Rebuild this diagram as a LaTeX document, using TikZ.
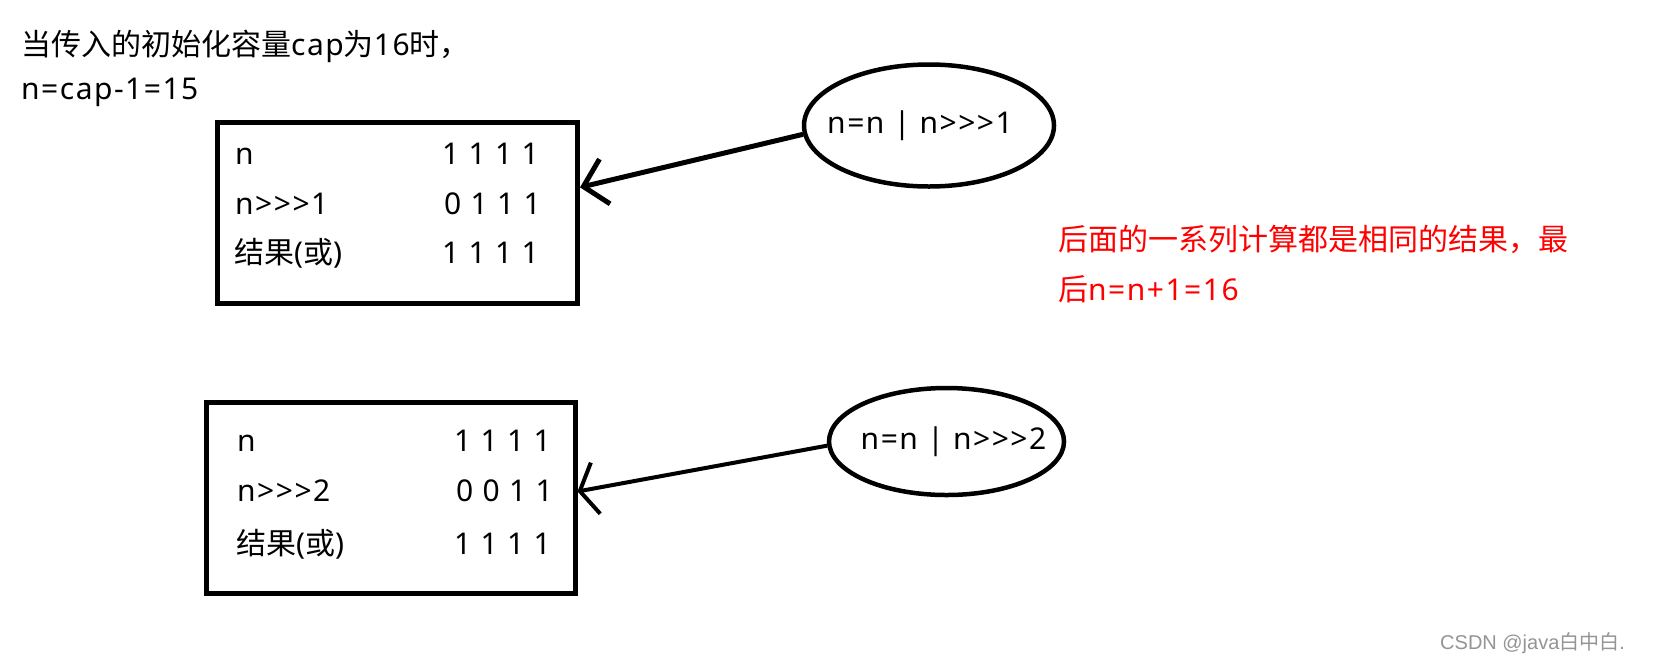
\documentclass[tikz,border=0pt]{standalone}
\usepackage{fontspec}
\setmainfont{Noto Sans}[LetterSpace=5]
\newfontfamily\cjk{Noto Sans CJK SC}
\newfontfamily\wmfont{Liberation Sans}
\usetikzlibrary{shapes.geometric,arrows.meta}
\newcommand{\gtr}{>\kern1.5pt}
\begin{document}
\begin{tikzpicture}[x=1pt,y=-1pt,
  txt/.style={inner sep=0pt,anchor=base west,font=\fontsize{30pt}{36pt}\selectfont},
  redtxt/.style={txt,text=red},
  boxnode/.style={draw,line width=5pt,inner sep=0pt,minimum width=#1},
  oval/.style={draw,ellipse,line width=4.5pt,inner sep=0pt,font=\fontsize{30pt}{36pt}\selectfont},
  conn/.style={line width=5pt}
]
\useasboundingbox (0,0) rectangle (1653,662);

% heading
\node[txt] (h1) at (21,55) {{\cjk 当传入的初始化容量}cap{\cjk 为}16{\cjk 时，}};
\node[txt] (h2) at (21,99) {n=cap-1=15};

% box 1
\node[boxnode, minimum width=360pt, minimum height=181pt] (b1) at (397.5,213) {};
\node[txt] (b1n) at (235,164) {n};
\node[txt] (b1s) at (235,214) {n\gtr\gtr\gtr 1};
\node[txt] (b1r) at (234,263) {{\cjk 结果}({\cjk 或})};
\node[txt] (b1v1) at (442,164) {1 1 1 1};
\node[txt] (b1v2) at (444,214) {0 1 1 1};
\node[txt] (b1v3) at (442,263) {1 1 1 1};

% box 2
\node[boxnode, minimum width=368.5pt, minimum height=191pt] (b2) at (390.75,498) {};
\node[txt] (b2n) at (237,451) {n};
\node[txt] (b2s) at (237,501) {n\gtr\gtr\gtr 2};
\node[txt] (b2r) at (236,554) {{\cjk 结果}({\cjk 或})};
\node[txt] (b2v1) at (454,451) {1 1 1 1};
\node[txt] (b2v2) at (456,501) {0 0 1 1};
\node[txt] (b2v3) at (454,554) {1 1 1 1};

% ellipses
\node[oval, minimum width=250pt, minimum height=122pt] (e1) at (929,125.5) {\makebox[0pt]{\kern-18pt n=n | n\gtr\gtr\gtr 1}};
\node[oval, minimum width=235pt, minimum height=107pt] (e2) at (946.5,441.5) {\makebox[0pt]{\kern14pt n=n | n\gtr\gtr\gtr 2}};

% connectors
\draw[conn,-{Straight Barb[length=22pt,width=46pt]}] (e1.184) -- (b1.8);
\draw[conn,line width=4pt,-{Straight Barb[length=16pt,width=52pt]}] (e2.182) -- (b2.2.5);

% red note
\node[redtxt] (r1) at (1058,250) {\cjk 后面的一系列计算都是相同的结果，最};
\node[redtxt] (r2) at (1058,300) {{\cjk 后}n=n+1=16};

% watermark
\node[inner sep=0pt,anchor=base west,text=black!42,font=\wmfont\fontsize{20pt}{22pt}\selectfont] (wm) at (1440,649) {CSDN @java{\cjk 白中白}.};
\end{tikzpicture}
\end{document}
